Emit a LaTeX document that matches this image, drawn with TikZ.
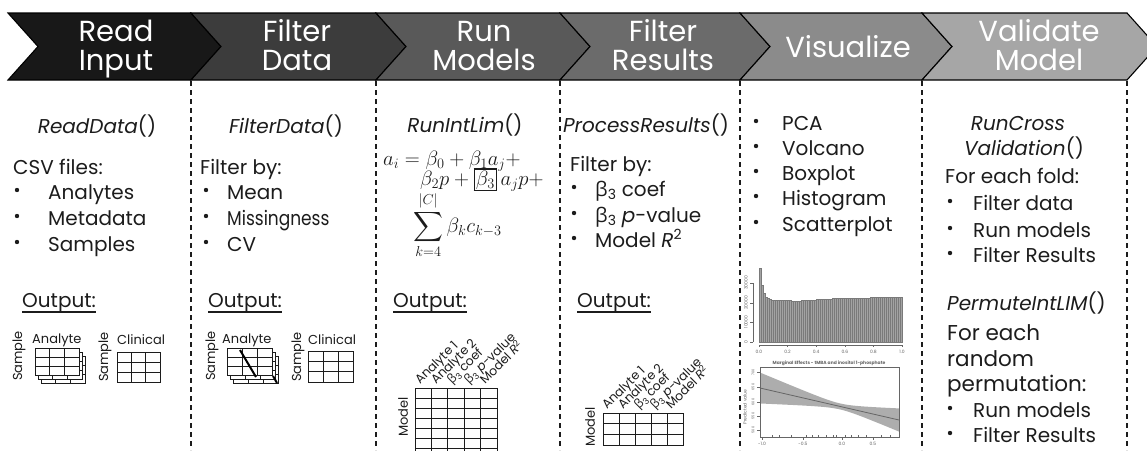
\documentclass[tikz,border=0pt]{standalone}
\usepackage{exscale}
\usepackage{fontspec}
\setmainfont{Poppins}
\newfontfamily\grkfont{Open Sans}
\usetikzlibrary{calc}

\definecolor{chevA}{HTML}{181818}
\definecolor{chevB}{HTML}{3C3C3C}
\definecolor{chevC}{HTML}{595959}
\definecolor{chevD}{HTML}{6B6B6B}
\definecolor{chevE}{HTML}{8B8B8B}
\definecolor{chevF}{HTML}{A6A6A6}
\definecolor{ink}{HTML}{1C1C1C}

% beta with subscript 3, set in a Greek-capable sans
\newcommand\bthree{{\grkfont β}\textsubscript{3}}

% small table: x0 y0 x1 y1 columns rows
\newcommand\tgrid[6]{%
  \filldraw[tbl] (#1,#2) rectangle (#3,#4);
  \pgfmathtruncatemacro\ncm{#5-1}%
  \pgfmathtruncatemacro\nrm{#6-1}%
  \foreach \k in {1,...,\ncm} \draw[tbl] ({#1+(#3-#1)*\k/#5},#2) -- ({#1+(#3-#1)*\k/#5},#4);
  \foreach \k in {1,...,\nrm} \draw[tbl] (#1,{#2+(#4-#2)*\k/#6}) -- (#3,{#2+(#4-#2)*\k/#6});
}

\tikzset{
  chevron/.style={draw=black, line width=1.1pt, line join=miter},
  hdr/.style={text=white, font=\fontsize{29}{29}\selectfont, anchor=base, inner sep=0pt},
  body/.style={text=ink, font=\fontsize{20}{24}\selectfont, anchor=base west, inner sep=0pt},
  func/.style={text=ink, font=\fontsize{20}{24}\selectfont\itshape, anchor=base, inner sep=0pt},
  bigbody/.style={text=ink, font=\fontsize{21.5}{26}\selectfont, anchor=base west, inner sep=0pt},
  divider/.style={draw=ink, line width=1.8pt, dash pattern=on 5pt off 4pt},
  uline/.style={draw=ink, line width=1.1pt},
  dot/.style={fill=ink},
  tbl/.style={draw=ink, line width=0.9pt, fill=white},
  small/.style={text=ink, font=\fontsize{13}{14}\selectfont, inner sep=0pt},
  collab/.style={text=ink, font=\fontsize{12.5}{13}\selectfont, inner sep=0pt, anchor=base west, rotate=45},
  strike/.style={draw=black, line width=2pt},
  bar/.style={fill=black!36, draw=black!52, line width=0.3pt},
  axis/.style={draw=black!60, line width=0.5pt},
  tick/.style={text=black!60, font=\fontsize{4.5}{5}\selectfont, inner sep=0pt},
  eq/.style={text=ink, font=\fontsize{21}{24}\selectfont, anchor=base west, inner sep=0pt},
}

\begin{document}
\begin{tikzpicture}[x=1pt,y=-1pt]
\useasboundingbox (0,0) rectangle (1147,450);

% ---- process chevrons ----
\foreach \l/\r/\c in {8/191/chevA, 191/376/chevB, 376/560/chevC, 560/740/chevD, 740/922/chevE, 922/1127/chevF}
  \filldraw[chevron, fill=\c] (\l,13) -- (\r,13) -- (\r+30,46.5) -- (\r,80) -- (\l,80) -- (\l+30,46.5) -- cycle;

\node[hdr] (h1a) at (116,41) {Read};
\node[hdr] (h1b) at (116,70) {Input};
\node[hdr] (h2a) at (297,41) {Filter};
\node[hdr] (h2b) at (297,70) {Data};
\node[hdr] (h3a) at (484,41) {Run};
\node[hdr] (h3b) at (484,70) {Models};
\node[hdr] (h4a) at (663,41) {Filter};
\node[hdr] (h4b) at (663,70) {Results};
\node[hdr] (h5)  at (848,57) {Visualize};
\node[hdr] (h6a) at (1039,41) {Validate};
\node[hdr] (h6b) at (1039,70) {Model};

% ---- column dividers ----
\foreach \x in {191,376,560,740,922,1127}
  \draw[divider] (\x,81) -- (\x,450);

% ---- column 1: read input ----
\node[func] (f1) at (97,133) {ReadData\upshape()};
\node[body] (t1) at (13,174) {CSV files:};
\foreach \txt/\y [count=\i] in {Analytes/199, Metadata/225, Samples/251} {
  \fill[dot] (17,\y-9) circle (2.2);
  \node[body] (c1i\i) at (48,\y) {\txt};
}

% ---- column 2: filter data ----
\node[func] (f2) at (286,133) {FilterData\upshape()};
\node[body] (t2) at (200,174) {Filter by:};
\foreach \y in {199,225,251} \fill[dot] (206,\y-9) circle (2.2);
\node[body] (c2i1) at (227,199) {Mean};
\node[body] (c2i2) at (227,225) {\scalebox{0.85}[1]{Missingness}};
\node[body] (c2i3) at (227,251) {CV};

% ---- column 3: run models ----
\node[func] (f3) at (465,132) {RunIntLim\upshape()};
\node[eq] (eq1) at (383,165) {$a_i = \beta_0 + \beta_1 a_j +$};
\node[eq] (eq2) at (420,185) {$\beta_2 p + {\setlength{\fboxsep}{1pt}\setlength{\fboxrule}{1.3pt}\fbox{$\beta_3$}}\, a_j p +$};
\node[eq] (eq3) at (413,232) {$\displaystyle\sum_{k=4}^{|C|} \beta_k c_{k-3}$};

% ---- column 4: filter results ----
\node[func] (f4) at (646,132) {ProcessResults\upshape()};
\node[body] (t4) at (570,171) {Filter by:};
\node[body] (c4i1) at (595,196) {\bthree{} coef};
\node[body] (c4i2) at (595,222) {\bthree{} \textit{p}-value};
\node[body] (c4i3) at (595,247) {Model \textit{R}\textsuperscript{2}};
\foreach \y in {196,222,247} \fill[dot] (574,\y-9) circle (2.2);

% ---- column 5: visualize ----
\foreach \txt/\y [count=\i] in {PCA/130, Volcano/155, Boxplot/180, Histogram/205, Scatterplot/231} {
  \fill[dot] (756,\y-9) circle (2.2);
  \node[body] (c5i\i) at (782,\y) {\txt};
}

% ---- column 6: validate model ----
\node[func] (f6a) at (1018,130) {RunCross};
\node[func] (f6b) at (1024,155) {Validation\upshape()};
\node[body] (t6) at (945,183) {For each fold:};
\foreach \txt/\y [count=\i] in {Filter data/210, Run models/237, Filter Results/262} {
  \fill[dot] (950,\y-9) circle (2.2);
  \node[body] (c6i\i) at (973,\y) {\txt};
}
\node[func, anchor=base west] (f6c) at (947,310) {PermuteIntLIM\upshape()};
\node[bigbody] (p1) at (947,340) {For each};
\node[bigbody] (p2) at (947,366) {random};
\node[bigbody] (p3) at (947,391) {permutation:};
\foreach \txt/\y [count=\i] in {Run models/417, Filter Results/442} {
  \fill[dot] (950,\y-9) circle (2.2);
  \node[body] (c6j\i) at (973,\y) {\txt};
}

% ---- output headings ----
\foreach \x/\n in {22/o1, 208/o2, 393/o3, 577/o4} {
  \node[body] (\n) at (\x,307) {Output:};
  \draw[uline] ($(\n.base west)+(0,5)$) -- ($(\n.base east)+(0,5)$);
}

% ---- column 1 output tables ----
\node[small, rotate=90] (s1) at (19,356) {Sample};
\node[small, anchor=base west] (a1) at (32,343) {Analyte};
\tgrid{41}{356}{85}{383}{3}{3}
\tgrid{38}{352}{82}{379}{3}{3}
\tgrid{35}{348}{79}{375}{3}{3}
\node[small, rotate=90] (s2) at (105,357) {Sample};
\node[small, anchor=base west] (k1) at (117,344) {Clinical};
\tgrid{117}{352}{160}{382}{3}{3}

% ---- column 2 output tables ----
\node[small, rotate=90] (s3) at (212,356) {Sample};
\node[small, anchor=base west] (a2) at (222,343) {Analyte};
\tgrid{233}{356}{278}{383}{3}{3}
\tgrid{230}{352}{275}{379}{3}{3}
\tgrid{227}{348}{272}{375}{3}{3}
\draw[strike] (240,350) -- (256,377);
\draw[strike] (273,376) -- (277,383);
\node[small, rotate=90] (s4) at (298,357) {Sample};
\node[small, anchor=base west] (k2) at (308,344) {Clinical};
\tgrid{308}{351}{353}{382}{3}{3}

% ---- column 3 output table ----
\tgrid{415}{388}{497}{458}{5}{7}
\node[small, rotate=90] (m3) at (403,417) {Model};
\node[collab] (l31) at (420,385) {Analyte 1};
\node[collab] (l32) at (436,385) {Analyte 2};
\node[collab] (l33) at (452,385) {\bthree{} coef};
\node[collab] (l34) at (469,385) {\bthree{} \textit{p}-value};
\node[collab] (l35) at (485,385) {Model \textit{R}\textsuperscript{2}};

% ---- column 4 output table ----
\tgrid{603}{413}{683}{445}{5}{3}
\node[small, rotate=90] (m4) at (590,427) {Model};
\node[collab] (l41) at (607,410) {Analyte 1};
\node[collab] (l42) at (623,410) {Analyte 2};
\node[collab] (l43) at (639,410) {\bthree{} coef};
\node[collab] (l44) at (655,410) {\bthree{} \textit{p}-value};
\node[collab] (l45) at (671,410) {Model \textit{R}\textsuperscript{2}};

% ---- column 5: histogram ----
\foreach \i in {0,...,71} {
  \pgfmathsetmacro\ytop{300 - 32*exp(-0.75*\i) - 3*\i/71 + 1.5*exp(-((\i-20)/12)^2)}
  \filldraw[bar] ({759+\i*1.986},342) rectangle ({759+(\i+1)*1.986},\ytop);
}
\draw[axis] (753,283) -- (753,342);
\foreach \y/\v [count=\i] in {342/0, 322/10000, 303/20000, 283/30000} {
  \draw[axis] (753,\y) -- (750,\y);
  \node[tick, rotate=90] (hy\i) at (746,\y) {\v};
}
\draw[axis] (759,345) -- (902,345);
\foreach \v [count=\i from 0] in {0.0,0.2,0.4,0.6,0.8,1.0} {
  \draw[axis] ({759+\i*28.6},345) -- ({759+\i*28.6},347);
  \node[tick] (hx\i) at ({759+\i*28.6},352) {\v};
}

% ---- column 5: marginal effects plot ----
\node[tick, font=\fontsize{4.5}{5}\selectfont\bfseries] (mt) at (829,363) {Marginal Effects - tMBA and inositol 1-phosphate};
\fill[black!32] plot[domain=760:899, samples=40] (\x, {388+(\x-760)*0.2302 - sqrt(9+0.036*(\x-840)^2)})
  -- plot[domain=899:760, samples=40] (\x, {388+(\x-760)*0.2302 + sqrt(9+0.036*(\x-840)^2)}) -- cycle;
\draw[black!60, line width=0.8pt] (760,388) -- (899,420);
\draw[axis] (760,367) rectangle (899,437);
\foreach \y/\v [count=\i] in {372/700, 387/650, 402/600, 416/550, 430/500} {
  \draw[axis] (760,\y) -- (757,\y);
  \node[tick, font=\fontsize{3.5}{4}\selectfont, rotate=90] (my\i) at (753,\y) {\v};
}
\node[tick, rotate=90] (myl) at (745,407) {Predicted value};
\foreach \x/\v [count=\i] in {762/-1.0, 803/-0.5, 842/0.0, 873/0.5} {
  \draw[axis] (\x,437) -- (\x,440);
  \node[tick] (mx\i) at (\x,444) {\v};
}
\foreach \x in {772,779,791,806,812,818,826,833,836,845,851,858,866,881,890}
  \draw[axis] (\x,437) -- (\x,435);
\end{tikzpicture}
\end{document}
